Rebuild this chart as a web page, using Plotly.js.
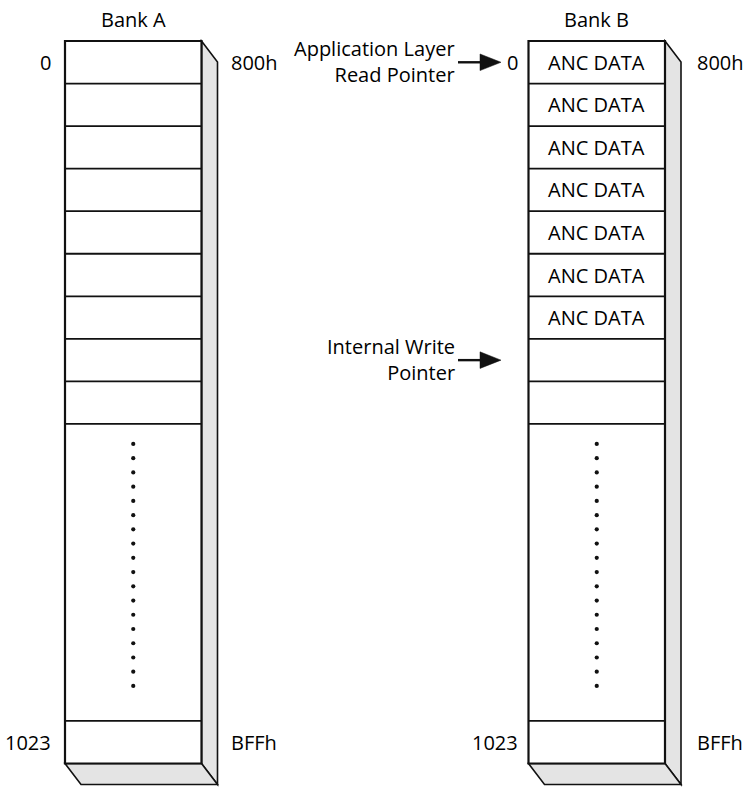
<!DOCTYPE html>
<html><head><meta charset="utf-8">
<script src="https://cdn.plot.ly/plotly-3.0.1.min.js"></script>
<style>html,body{margin:0;padding:0;background:#fff}</style>
</head><body><div id="chart" style="width:744px;height:787px"></div>
<script>
// ---- data ----
const bankNames = ["Bank A", "Bank B"];
const firstIndexLabels = ["0", "0"];
const lastIndexLabels = ["1023", "1023"];
const firstAddrLabels = ["800h", "800h"];
const lastAddrLabels = ["BFFh", "BFFh"];
const bankARowLabels = ["", "", "", "", "", "", "", "", ""];
const bankBRowLabels = ["ANC DATA", "ANC DATA", "ANC DATA", "ANC DATA", "ANC DATA", "ANC DATA", "ANC DATA", "", ""];
const ellipsisDotCount = 18;
const pointerLabels = ["Application Layer<br>Read Pointer", "Internal Write<br>Pointer"];
const pointerRowIndex = [0, 7];

// ---- geometry / style ----
const G = {
  left: [65, 528.5], width: 136.5, top: 41, rowH: 42.55,
  ellipsisH: 297, depthX: 16, depthY: 21,
  dotTopPad: 20, dotBottomPad: 35,
  indexRight: [52, 519], addrLeft: [230, 696],
  titleY: 19, pointerTextRight: 456,
  arrowTail: 458, arrowHeadStart: 480, arrowTip: 501, arrowHalfH: 8.3
};
const FONT = {family: "Open Sans, sans-serif", size: 20, color: "#000"};
const LINE = "#111";
const SIDE_FILL = "#e4e4e4";

const rowsPerBank = [bankARowLabels, bankBRowLabels];
const shapes = [], annotations = [], traces = [];

function label(x, y, text, xanchor, align) {
  annotations.push({x: x, y: y, text: text, showarrow: false, font: FONT, xanchor: xanchor, yanchor: "middle", borderpad: 0, align: align || "center"});
}

rowsPerBank.forEach((rows, b) => {
  const L = G.left[b], R = L + G.width;
  const ellTop = G.top + rows.length * G.rowH;
  const lastTop = ellTop + G.ellipsisH;
  const bottom = lastTop + G.rowH;
  const dx = G.depthX, dy = G.depthY;
  shapes.push({type: "path", path: `M${R},${G.top} L${R+dx},${G.top+dy} L${R+dx},${bottom+dy} L${R},${bottom} Z`,
    fillcolor: SIDE_FILL, line: {color: LINE, width: 1.6}, layer: "below"});
  shapes.push({type: "path", path: `M${L},${bottom} L${R},${bottom} L${R+dx},${bottom+dy} L${L+dx},${bottom+dy} Z`,
    fillcolor: SIDE_FILL, line: {color: LINE, width: 1.6}, layer: "below"});
  shapes.push({type: "rect", x0: L, x1: R, y0: G.top, y1: bottom, fillcolor: "#fff", line: {color: LINE, width: 2.2}, layer: "below"});
  const lineYs = [];
  for (let i = 1; i <= rows.length; i++) lineYs.push(G.top + i * G.rowH);
  lineYs.push(lastTop);
  lineYs.forEach(y => shapes.push({type: "line", x0: L, x1: R, y0: y, y1: y, line: {color: LINE, width: 1.8}}));
  rows.forEach((t, i) => { if (t) label((L + R) / 2, G.top + (i + 0.5) * G.rowH, t, "center"); });
  const dy0 = ellTop + G.dotTopPad, dy1 = lastTop - G.dotBottomPad;
  const xs = [], ys = [];
  for (let k = 0; k < ellipsisDotCount; k++) { xs.push((L + R) / 2); ys.push(dy0 + k * (dy1 - dy0) / (ellipsisDotCount - 1)); }
  traces.push({type: "scatter", mode: "markers", x: xs, y: ys, marker: {size: 4.2, color: LINE}, hoverinfo: "skip", showlegend: false});
  label((L + R) / 2, G.titleY, bankNames[b], "center");
  label(G.indexRight[b], G.top + G.rowH / 2, firstIndexLabels[b], "right");
  label(G.indexRight[b], lastTop + G.rowH / 2, lastIndexLabels[b], "right");
  label(G.addrLeft[b], G.top + G.rowH / 2, firstAddrLabels[b], "left");
  label(G.addrLeft[b], lastTop + G.rowH / 2, lastAddrLabels[b], "left");
});

pointerLabels.forEach((t, p) => {
  const y = G.top + (pointerRowIndex[p] + 0.5) * G.rowH;
  label(G.pointerTextRight, y - 1, t, "right", "right");
  shapes.push({type: "line", x0: G.arrowTail, x1: G.arrowHeadStart + 2, y0: y, y1: y, line: {color: LINE, width: 2.4}});
  shapes.push({type: "path", path: `M${G.arrowHeadStart},${y-G.arrowHalfH} L${G.arrowTip},${y} L${G.arrowHeadStart},${y+G.arrowHalfH} Z`,
    fillcolor: LINE, line: {color: LINE, width: 0.5}});
});

const layout = {
  width: 744, height: 787, margin: {l: 0, r: 0, t: 0, b: 0},
  paper_bgcolor: "#fff", plot_bgcolor: "#fff",
  xaxis: {range: [0, 744], visible: false, fixedrange: true},
  yaxis: {range: [787, 0], visible: false, fixedrange: true},
  shapes: shapes, annotations: annotations, showlegend: false
};
Plotly.newPlot("chart", traces, layout, {staticPlot: true});
</script></body></html>
